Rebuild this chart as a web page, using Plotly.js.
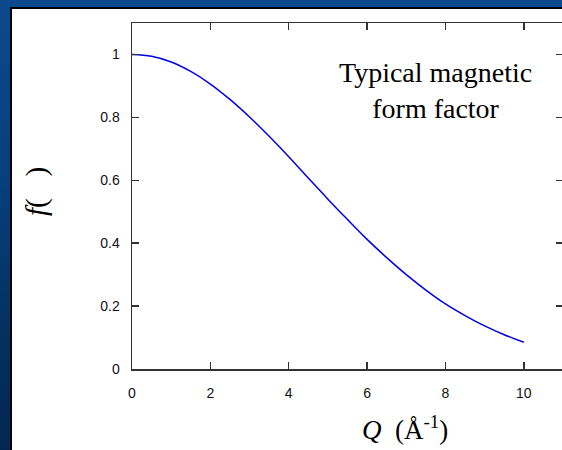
<!DOCTYPE html>
<html>
<head>
<meta charset="utf-8">
<script src="https://cdn.plot.ly/plotly-3.0.1.min.js"></script>
<style>
  html, body { margin: 0; padding: 0; width: 562px; height: 450px; overflow: hidden; }
  body { background: linear-gradient(180deg, #0b4a8e 0%, #073f7c 40%, #03305f 75%, #022650 100%); position: relative; }
  #panel { position: absolute; left: 10px; top: 7px; width: 560px; height: 450px; background: #fff; border-left: 2px solid #000; border-top: 2px solid #000; }
  #chart { position: absolute; left: 0; top: 0; }
</style>
</head>
<body>
<div id="panel"></div>
<div id="chart"></div>
<script>
// Momentum transfer Q (1/Angstrom) and the magnetic form factor f at each Q
const Q = [0, 0.5, 1, 1.5, 2, 2.5, 3, 3.5, 4, 4.5, 5, 5.5, 6, 6.5, 7, 7.5, 8, 8.5, 9, 9.5, 10];
const formFactor = [1.000, 0.994, 0.976, 0.946, 0.906, 0.857, 0.801, 0.740, 0.675, 0.607,
                    0.540, 0.475, 0.412, 0.354, 0.300, 0.251, 0.207, 0.170, 0.137, 0.109, 0.085];
const xTicks = [0, 2, 4, 6, 8, 10];
const yTicks = [0, 0.2, 0.4, 0.6, 0.8, 1];

const axisStyle = {
  showline: true, linecolor: '#333', linewidth: 1.5,
  mirror: 'ticks', ticks: 'inside', ticklen: 7, tickwidth: 1.5, tickcolor: '#333',
  showgrid: false, zeroline: false,
  tickfont: { family: 'Liberation Sans, Arial, sans-serif', size: 14, color: '#111' }
};

const trace = {
  x: Q, y: formFactor, type: 'scatter', mode: 'lines',
  line: { color: '#0000e6', width: 1.5, shape: 'spline' },
  hoverinfo: 'skip'
};

const serif = 'Liberation Serif, Times New Roman, serif';

const layout = {
  width: 570, height: 450,
  margin: { l: 132, r: 7, t: 23, b: 81 },
  paper_bgcolor: 'rgba(0,0,0,0)', plot_bgcolor: 'rgba(0,0,0,0)',
  showlegend: false,
  xaxis: Object.assign({}, axisStyle, {
    range: [0, 11], tickvals: xTicks, ticktext: xTicks.map(String), ticklabelstandoff: 11
  }),
  yaxis: Object.assign({}, axisStyle, {
    range: [0, 1.1], tickvals: yTicks, ticktext: yTicks.map(String), ticklabelstandoff: 8
  }),
  annotations: [
    {
      text: 'Typical magnetic<br>form factor', xref: 'paper', yref: 'paper',
      x: (435 - 132) / 431, y: 1 - (90 - 23) / 346, xanchor: 'center', yanchor: 'middle',
      showarrow: false, align: 'center',
      font: { family: serif, size: 28, color: '#000' }
    },
    {
      text: '<i>Q</i>\u00a0 (Å<sup>-1</sup>)', xref: 'paper', yref: 'paper',
      x: (405 - 132) / 431, y: 1 - (428 - 23) / 346, xanchor: 'center', yanchor: 'middle',
      showarrow: false,
      font: { family: serif, size: 27, color: '#000' }
    },
    {
      text: '<i>f</i>(\u00a0\u00a0\u00a0)', xref: 'paper', yref: 'paper',
      x: (36 - 132) / 431, y: 1 - (192 - 23) / 346, xanchor: 'center', yanchor: 'middle',
      textangle: -90, showarrow: false,
      font: { family: serif, size: 29, color: '#000' }
    }
  ]
};

Plotly.newPlot('chart', [trace], layout, { staticPlot: true, displayModeBar: false });
</script>
</body>
</html>
